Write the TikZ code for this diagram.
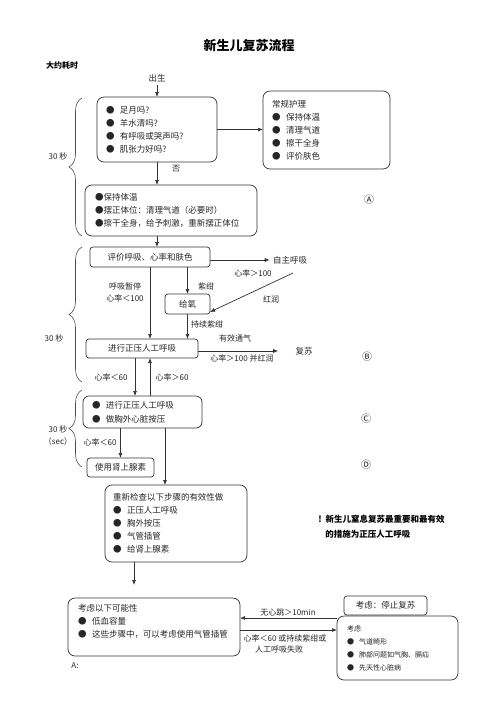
\documentclass[tikz,border=0pt]{standalone}
\usepackage{fontspec}
\setmainfont{Noto Sans CJK SC}
\newfontfamily\symfont{Noto Sans CJK JP}
\usetikzlibrary{positioning,calc,arrows.meta,decorations.pathreplacing}

\newcommand{\bul}{\makebox[14pt][l]{●}}
\newcommand{\sbul}{\makebox[12pt][l]{●}}

\begin{document}
\begin{tikzpicture}[x=1pt, y=-1pt,
        every node/.style={font=\fontsize{8.5}{13}\selectfont, text=black!85, outer sep=0pt},
        box/.style={draw=black!80, line width=0.7pt, rounded corners=7pt, align=left, inner xsep=9pt, inner ysep=0pt},
        tag/.style={draw=black!80, line width=0.7pt, rounded corners=3pt, align=center, inner sep=0pt},
        arrow/.style={-{Latex[length=5pt,width=4pt]}, line width=0.7pt, draw=black!80},
        brace/.style={decorate, decoration={brace, amplitude=13pt}, line width=0.6pt, draw=black!70},
        cond/.style={font=\fontsize{8}{10}\selectfont},
        circ/.style={font=\symfont\fontsize{10}{12}\selectfont},
    ]
        \useasboundingbox (0,0) rectangle (496,702);

        \node[font=\fontsize{13}{15}\selectfont\bfseries, text=black] (title) at (249,46) {新生儿复苏流程};
        \node[font=\fontsize{8}{10}\selectfont\bfseries, text=black] (time) at (62,65) {大约耗时};

        \node (birth) at (157,78) {出生};
        \node[box, minimum width=120, text width=102pt, minimum height=65] (check) at (157,129.5) {
            \bul 足月吗?\\
            \bul 羊水清吗?\\
            \bul 有呼吸或哭声吗?\\
            \bul 肌张力好吗?
        };
        \node[box, minimum width=127, text width=109pt, minimum height=78] (care) at (326.5,130) {
            常规护理\\
            \bul 保持体温\\
            \bul 清理气道\\
            \bul 擦干全身\\
            \bul 评价肤色
        };
        \node[box, minimum width=172, text width=152pt, minimum height=51, inner xsep=10pt] (warm) at (171,210.5) {
            ●保持体温\\
            ●摆正体位：清理气道（必要时）\\
            ●擦干全身，给予刺激，重新摆正体位
        };

        \node[tag, minimum width=120, minimum height=20] (assess) at (150,257) {评价呼吸、心率和肤色};
        \node (spont) at (290,260) {自主呼吸};
        \node[tag, minimum width=45, minimum height=20] (oxygen) at (187.5,304) {给氧};
        \node[tag, minimum width=112, minimum height=19] (ppv) at (142,348.5) {进行正压人工呼吸};
        \node (revive) at (304,351) {复苏};

        \node[box, minimum width=119, text width=101pt, minimum height=32, rounded corners=6pt] (cpr) at (142.5,412) {
            \bul 进行正压人工呼吸\\[1pt]
            \bul 做胸外心脏按压
        };
        \node[tag, minimum width=67, minimum height=19] (epi) at (120.5,467.5) {使用肾上腺素};
        \node[box, minimum width=142, text width=126pt, minimum height=77, inner xsep=8pt] (recheck) at (176,523.5) {
            重新检查以下步骤的有效性做\\
            \bul 正压人工呼吸\\
            \bul 胸外按压\\
            \bul 气管插管\\
            \bul 给肾上腺素
        };
        \node[box, minimum width=172, text width=152pt, minimum height=58, inner xsep=10pt] (possible) at (154,627) {
            考虑以下可能性\\
            \bul 低血容量\\
            \bul 这些步骤中，可以考虑使用气管插管\\
            \mbox{}
        };
        \node[tag, minimum width=83, minimum height=19] (stop) at (385.5,605.5) {考虑：停止复苏};
        \node[box, minimum width=121, text width=101pt, minimum height=64, inner xsep=10pt, font=\fontsize{7}{13}\selectfont] (causes) at (397.5,648) {
            考虑\\
            \sbul 气道畸形\\
            \sbul 肺部问题如气胸、膈疝\\
            \sbul 先天性心脏病
        };

        % condition labels
        \node[cond] (no) at (176,169) {否};
        \node[cond] (hr100) at (253,273) {心率＞100};
        \node[cond] (pink) at (271,299) {红润};
        \node[cond] (cyan) at (206,286) {紫绀};
        \node[cond, align=center] (apnea) at (125,292) {呼吸暂停\\[2pt]心率＜100};
        \node[cond] (still) at (207,324) {持续紫绀};
        \node[cond] (vent) at (235,338) {有效通气};
        \node[cond] (good) at (242,358) {心率＞100 并红润};
        \node[cond] (low) at (111,377) {心率＜60};
        \node[cond] (high) at (172,377) {心率＞60};
        \node[cond] (low2) at (100,442) {心率＜60};
        \node[cond] (nobeat) at (288,612) {无心跳＞10min};
        \node[cond, align=center] (failed) at (285,643.5) {心率＜60 或持续紫绀或\\[1pt]\hspace{-12pt}人工呼吸失败};

        \node[circ] (markA) at (369,200) {Ⓐ};
        \node[circ] (markB) at (367,357) {Ⓑ};
        \node[circ] (markC) at (366,419) {Ⓒ};
        \node[circ] (markD) at (366,465) {Ⓓ};

        \node[font=\fontsize{8.5}{15}\selectfont\bfseries, text=black, align=left, anchor=west] (note) at (315,526.5) {
            !\hspace{4pt}新生儿窒息复苏最重要和最有效\\
            \hspace{7pt}的措施为正压人工呼吸
        };
        \node[cond] (alabel) at (75,666) {A:};

        % time braces
        \draw[brace] (82,236) -- (82,98);
        \draw[brace] (82,382) -- (82,247);
        \draw[brace] (82,467) -- (82,390);
        \node[cond] (t1) at (58,156) {30 秒};
        \node[cond] (t2) at (54,338) {30 秒};
        \node[cond, align=center] (t3) at (58,436) {30 秒\\[2pt]（sec）};

        % connectors
        \draw[arrow] (birth.south) -- (check.north);
        \draw[arrow] (check.south) -- (check.south |- warm.north);
        \draw[arrow] (check.east) -- (check.east -| care.west);
        \draw[arrow] (warm.south -| birth) -- (assess.north -| birth);
        \draw[arrow] (assess.east |- spont) -- (spont.west);
        \draw[arrow] (assess.south -| oxygen) -- (oxygen.north);
        \draw[arrow] (assess.south) -- (assess.south |- ppv.north);
        \coordinate (rosy) at (293,273);
        \draw[arrow] (rosy) -- ([yshift=2pt]oxygen.south east);
        \draw[arrow] (oxygen.south) -- (oxygen.south |- ppv.north);
        \draw[arrow, shorten >=14pt] (ppv.east |- revive) -- (revive.west);
        \coordinate (down) at ([xshift=-7pt]ppv.south);
        \coordinate (up) at ([xshift=7.5pt]cpr.north);
        \draw[arrow] (down) -- (down |- cpr.north);
        \draw[arrow] (up) -- (up |- ppv.south);
        \draw[arrow] (epi.north |- cpr.south) -- (epi.north);
        \coordinate (drop) at ([xshift=-11pt]recheck.north);
        \draw[arrow] (drop |- cpr.south) -- (drop);
        \coordinate (last) at ([xshift=-20pt]possible.north);
        \draw[arrow, shorten >=13pt] (last |- recheck.south) -- (last);
        \coordinate (back) at ([yshift=-2pt]causes.north west);
        \draw[arrow] (back) -- (back -| possible.east);
        \coordinate (fail) at ([yshift=18pt]causes.west);
        \draw[arrow] (possible.east |- fail) -- (fail);

    \end{tikzpicture}
\end{document}
